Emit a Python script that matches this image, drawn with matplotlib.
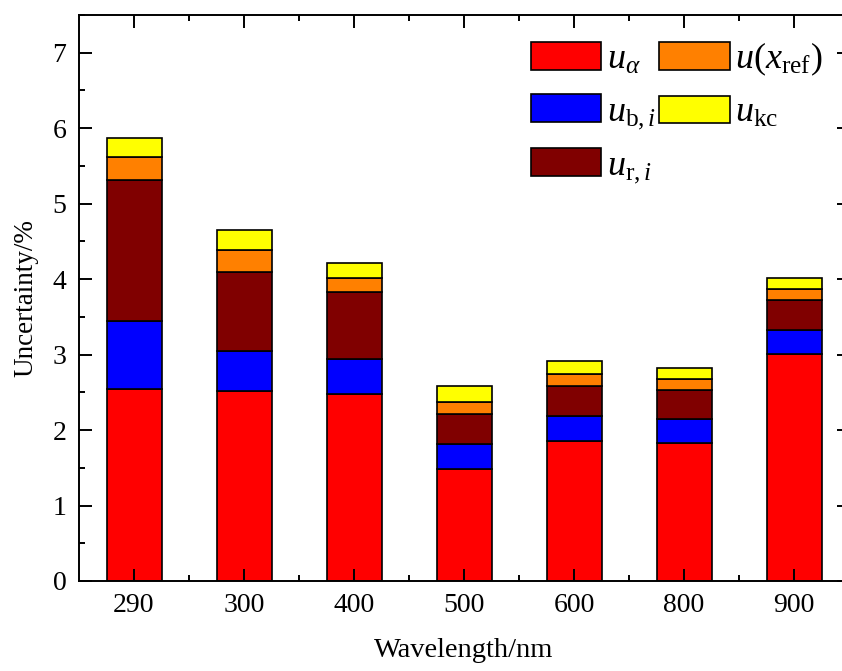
import matplotlib
matplotlib.use("Agg")
import matplotlib.pyplot as plt
from matplotlib.ticker import MultipleLocator, FixedLocator
import numpy as np

plt.rcParams['font.family'] = ['Liberation Serif', 'DejaVu Serif']
plt.rcParams['mathtext.fontset'] = 'custom'
plt.rcParams['mathtext.rm'] = 'Liberation Serif'
plt.rcParams['mathtext.it'] = 'Liberation Serif:italic'
plt.rcParams['mathtext.bf'] = 'Liberation Serif:bold'

categories = ['290', '300', '400', '500', '600', '800', '900']
# segment heights
u_alpha = [2.55, 2.52, 2.48, 1.48, 1.85, 1.83, 3.01]
u_b = [0.90, 0.53, 0.46, 0.34, 0.33, 0.32, 0.32]
u_r = [1.86, 1.05, 0.89, 0.39, 0.40, 0.38, 0.39]
u_xref = [0.31, 0.28, 0.19, 0.16, 0.16, 0.15, 0.15]
u_kc = [0.25, 0.27, 0.19, 0.21, 0.18, 0.14, 0.14]

series = [u_alpha, u_b, u_r, u_xref, u_kc]
labels = [r'$u_{\alpha}$', r'$u_{\mathrm{b},i}$', r'$u_{\mathrm{r},i}$',
          r'$u(x_{\mathrm{ref}})$', r'$u_{\mathrm{kc}}$']
colors = ['#ff0000', '#0000ff', '#800000', '#ff8000', '#ffff00']

fig = plt.figure(figsize=(8.42, 6.71), dpi=100)
ax = fig.add_axes([79/842, 90/671, 770/842, 566/671])

x = np.arange(len(categories))
bottom = np.zeros(len(categories))
for vals, lab, col in zip(series, labels, colors):
    ax.bar(x, vals, 0.5, bottom=bottom, color=col, edgecolor='black',
           linewidth=1.2, label=lab)
    bottom += np.array(vals)

ax.set_xlim(-0.5, 6.5)
ax.set_ylim(0, 7.5)
ax.set_xticks(x)
ax.set_xticklabels(categories)
ax.xaxis.set_minor_locator(FixedLocator(x[:-1] + 0.5))
ax.yaxis.set_major_locator(MultipleLocator(1))
ax.yaxis.set_minor_locator(MultipleLocator(0.5))
ax.tick_params(which='both', direction='in', top=True, right=True, width=1.4)
ax.tick_params(which='major', length=9, labelsize=20, pad=9)
ax.tick_params(which='minor', length=4.5)
for s in ax.spines.values():
    s.set_linewidth(1.4)

ax.set_xlabel('Wavelength/nm', fontsize=20.5, labelpad=14)
ax.set_ylabel('Uncertainty/%', fontsize=19.5, labelpad=10)

ax.legend(ncol=2, loc='upper left',
          bbox_to_anchor=(531/842, (671 - 41)/671),
          bbox_transform=fig.transFigure,
          frameon=False, fontsize=26, handlelength=1.95, handleheight=0.8,
          handletextpad=0.15, columnspacing=0.1, labelspacing=0.48,
          borderaxespad=0, borderpad=0)

fig.savefig('out.png', dpi=100)
